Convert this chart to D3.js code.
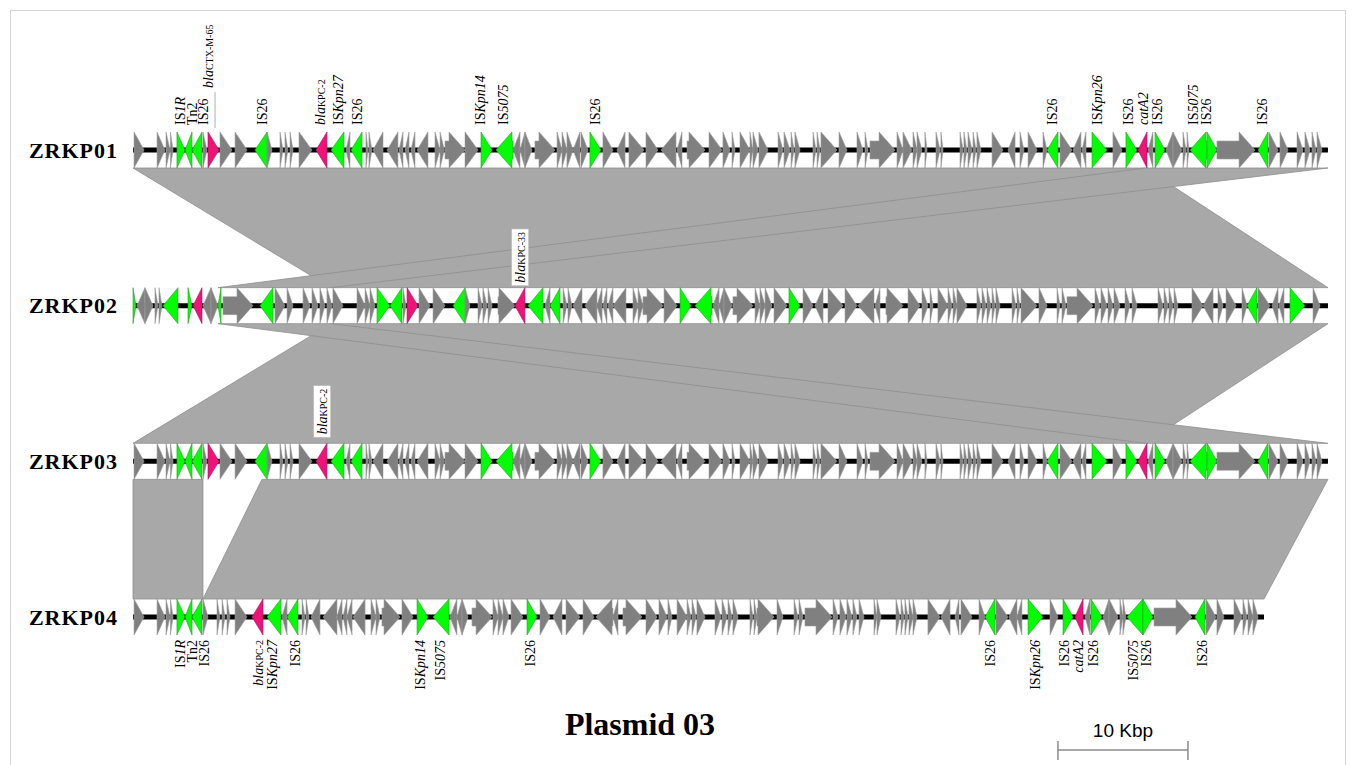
<!DOCTYPE html>
<html>
<head>
<meta charset="utf-8">
<script src="https://cdn.jsdelivr.net/npm/d3@7"></script>
<style>
  body { margin: 0; background: #fff; }
  svg { display: block; }
</style>
</head>
<body>
<div id="chart"></div>
<script>
// genes: [start kb, end kb, strand, type]  type: g = other, i = IS/transposon, r = resistance
const zrkp01Genes = [
  [0.08,0.85,1,'g'],[1.85,2.46,1,'g'],[2.54,2.85,1,'g'],[2.88,3.08,1,'g'],[3.38,4.0,1,'i'],[4.0,4.54,-1,'i'],
  [4.54,5.31,-1,'i'],[5.38,5.69,1,'g'],[5.77,6.62,1,'r'],[6.69,7.62,1,'g'],[7.85,8.77,1,'g'],[9.38,10.31,-1,'i'],
  [10.31,10.69,1,'g'],[11.31,11.54,1,'g'],[11.69,11.92,1,'g'],[12.08,12.31,1,'g'],[12.77,13.77,1,'g'],[14.08,14.92,-1,'r'],
  [15.23,16.23,-1,'i'],[16.38,16.69,-1,'g'],[16.77,17.62,-1,'i'],[17.92,18.08,1,'g'],[18.15,18.38,1,'g'],[18.46,19.23,-1,'g'],
  [19.54,20.38,-1,'g'],[20.46,20.77,-1,'g'],[20.92,21.23,-1,'g'],[21.38,21.69,-1,'g'],[21.85,22.69,-1,'g'],[23.23,23.62,1,'g'],
  [23.62,23.95,1,'g'],[24.0,25.54,1,'g'],[25.54,26.54,1,'g'],[26.77,27.62,1,'i'],[27.92,29.23,-1,'i'],[29.23,29.77,-1,'g'],
  [29.77,30.15,-1,'g'],[30.15,30.69,1,'g'],[30.92,32.46,1,'g'],[32.62,33.0,1,'g'],[33.0,33.38,1,'g'],[33.38,33.85,1,'g'],
  [33.85,34.38,-1,'g'],[34.46,35.0,1,'g'],[35.15,36.0,1,'i'],[36.15,36.92,1,'g'],[37.23,37.85,-1,'g'],[38.15,39.31,1,'g'],
  [39.46,40.38,1,'g'],[40.62,41.77,-1,'g'],[41.85,42.23,-1,'g'],[42.62,44.0,1,'g'],[44.31,45.31,1,'g'],[45.38,45.92,1,'g'],
  [46.08,46.31,1,'g'],[46.69,47.46,1,'g'],[47.46,47.69,1,'g'],[47.69,48.08,1,'g'],[48.15,48.85,1,'g'],[49.62,50.0,1,'g'],
  [50.08,50.54,1,'g'],[50.62,50.85,1,'g'],[50.92,51.31,1,'g'],[52.31,52.54,1,'g'],[52.62,52.85,1,'g'],[52.92,54.15,1,'g'],
  [54.31,54.92,1,'g'],[55.69,56.15,1,'g'],[56.31,56.54,1,'g'],[56.69,58.62,1,'g'],[58.77,59.23,1,'g'],[59.23,59.92,1,'g'],
  [60.0,60.31,1,'g'],[60.31,60.69,1,'g'],[60.92,61.08,1,'g'],[61.77,62.08,1,'g'],[62.15,62.31,1,'g'],[63.62,63.85,1,'g'],
  [63.92,64.15,1,'g'],[64.23,64.54,1,'g'],[64.62,64.85,1,'g'],[64.92,65.23,1,'g'],[66.08,66.92,1,'g'],[67.31,67.85,-1,'g'],
  [68.23,68.54,1,'g'],[68.85,69.54,1,'g'],[70.0,70.31,1,'g'],[70.31,71.15,-1,'i'],[71.31,72.23,1,'g'],[72.31,72.92,-1,'g'],
  [73.0,73.31,-1,'g'],[73.77,74.92,1,'i'],[75.38,76.08,1,'g'],[76.38,77.23,1,'i'],[77.31,78.0,-1,'r'],[78.08,78.46,-1,'g'],
  [78.62,79.38,1,'i'],[79.46,80.0,-1,'g'],[80.0,80.69,1,'g'],[80.77,81.0,1,'g'],[81.08,81.23,1,'g'],[81.31,82.62,-1,'i'],
  [82.62,83.38,1,'i'],[83.38,86.31,1,'g'],[86.54,87.31,-1,'i'],[87.38,88.08,1,'g'],[88.23,88.85,1,'g'],[89.54,90.0,1,'g'],
  [90.15,90.54,1,'g'],[90.69,91.0,1,'g'],[91.08,91.46,1,'g']
];

const zrkp02Genes = [
  [0.0,0.23,1,'i'],[0.31,0.92,-1,'g'],[0.92,1.54,1,'g'],[1.69,1.92,1,'g'],[2.0,2.23,1,'g'],[2.31,3.46,-1,'i'],
  [4.23,4.54,1,'i'],[4.62,5.31,-1,'r'],[5.38,6.0,-1,'g'],[6.0,6.54,1,'g'],[6.54,6.77,-1,'i'],[6.92,9.23,1,'g'],
  [9.77,10.77,-1,'i'],[10.92,11.69,1,'g'],[11.85,12.31,1,'g'],[13.08,13.62,1,'g'],[13.77,14.23,1,'g'],[14.38,14.77,1,'g'],
  [14.92,15.31,1,'g'],[15.38,16.15,1,'g'],[17.23,17.85,1,'g'],[17.85,18.23,1,'g'],[18.23,18.62,1,'g'],[18.77,19.77,1,'i'],
  [19.77,20.69,-1,'i'],[20.77,21.0,1,'g'],[21.08,21.92,1,'r'],[22.0,22.85,1,'g'],[23.08,24.0,1,'g'],[24.62,25.54,-1,'i'],
  [25.54,25.92,1,'g'],[26.54,26.85,1,'g'],[26.92,27.23,1,'g'],[27.31,27.62,1,'g'],[28.08,29.38,1,'g'],[29.38,30.15,-1,'r'],
  [30.38,31.54,-1,'i'],[31.69,32.08,-1,'g'],[32.08,32.85,-1,'i'],[33.08,33.38,1,'g'],[33.46,33.77,1,'g'],[33.85,34.54,-1,'g'],
  [34.77,35.69,-1,'g'],[35.69,36.08,-1,'g'],[36.15,36.46,-1,'g'],[36.54,36.92,-1,'g'],[36.92,37.92,-1,'g'],[38.46,38.85,1,'g'],
  [38.85,39.23,1,'g'],[39.23,40.77,1,'g'],[40.85,41.85,1,'g'],[42.08,42.92,1,'i'],[43.23,44.54,-1,'i'],[44.62,45.08,-1,'g'],
  [45.08,45.46,-1,'g'],[45.46,46.08,1,'g'],[46.15,47.69,1,'g'],[47.85,48.23,1,'g'],[48.23,48.62,1,'g'],[48.62,49.15,1,'g'],
  [49.31,50.31,1,'g'],[50.46,51.31,1,'i'],[51.54,52.31,1,'g'],[52.46,53.08,-1,'g'],[53.46,54.62,1,'g'],[54.77,55.69,1,'g'],
  [55.77,57.0,-1,'g'],[57.08,57.46,-1,'g'],[57.92,59.23,1,'g'],[59.62,60.54,1,'g'],[60.69,61.15,1,'g'],[61.31,61.54,1,'g'],
  [61.92,62.69,1,'g'],[62.69,63.0,1,'g'],[63.08,63.38,1,'g'],[63.38,64.15,1,'g'],[64.92,65.23,1,'g'],[65.31,65.62,1,'g'],
  [65.69,66.0,1,'g'],[66.08,66.31,1,'g'],[66.38,66.69,1,'g'],[67.62,67.92,1,'g'],[68.0,68.23,1,'g'],[68.31,69.54,1,'g'],
  [69.69,70.31,1,'g'],[71.08,71.31,1,'g'],[71.46,71.77,1,'g'],[71.85,73.85,1,'g'],[74.0,74.38,1,'g'],[74.46,74.92,1,'g'],
  [75.0,75.38,1,'g'],[75.46,75.92,1,'g'],[76.31,76.69,1,'g'],[76.85,77.23,1,'g'],[78.85,79.23,1,'g'],[79.31,79.62,1,'g'],
  [79.69,80.0,1,'g'],[80.08,80.38,1,'g'],[81.46,82.31,1,'g'],[82.31,83.08,-1,'g'],[83.46,83.85,1,'g'],[84.08,84.85,1,'g'],
  [85.31,85.69,1,'g'],[85.69,86.46,-1,'i'],[86.54,87.46,1,'g'],[87.62,88.08,-1,'g'],[88.15,88.54,-1,'g'],[89.0,90.15,1,'i'],
  [90.77,91.31,1,'g']
];

// ZRKP03 carries the same gene order as ZRKP01
const zrkp03Genes = zrkp01Genes;

const zrkp04Genes = [
  [0.08,0.85,1,'g'],[1.85,2.46,1,'g'],[2.54,2.85,1,'g'],[2.88,3.08,1,'g'],[3.38,4.0,1,'i'],[4.0,4.54,-1,'i'],
  [4.54,5.31,-1,'i'],[5.38,5.77,1,'g'],[6.46,6.69,1,'g'],[6.85,7.08,1,'g'],[7.23,7.46,1,'g'],[7.85,8.77,1,'g'],
  [9.15,10.0,-1,'r'],[10.31,11.38,-1,'i'],[11.46,11.85,-1,'g'],[11.85,12.69,-1,'i'],[13.0,13.23,1,'g'],[13.31,13.54,1,'g'],
  [13.69,14.38,-1,'g'],[14.62,15.69,-1,'g'],[15.69,16.08,-1,'g'],[16.15,16.46,-1,'g'],[16.46,16.85,-1,'g'],[16.92,17.85,-1,'g'],
  [18.31,18.69,1,'g'],[18.69,19.0,1,'g'],[19.15,20.54,1,'g'],[20.69,21.54,1,'g'],[21.85,22.69,1,'i'],[23.08,24.31,-1,'i'],
  [24.38,24.92,-1,'g'],[24.92,25.31,-1,'g'],[25.31,25.77,1,'g'],[26.08,27.62,1,'g'],[27.69,28.08,1,'g'],[28.08,28.46,1,'g'],
  [28.46,28.92,1,'g'],[29.08,30.0,1,'g'],[30.31,31.08,1,'i'],[31.31,32.08,1,'g'],[32.31,33.0,-1,'g'],[33.31,34.38,1,'g'],
  [34.62,35.46,1,'g'],[35.62,36.92,-1,'g'],[36.92,37.31,-1,'g'],[37.69,39.15,1,'g'],[39.46,40.31,1,'g'],[40.46,41.08,1,'g'],
  [41.15,41.46,1,'g'],[41.85,42.62,1,'g'],[42.62,42.92,1,'g'],[43.0,43.31,1,'g'],[43.38,44.0,1,'g'],[44.77,45.23,1,'g'],
  [45.31,45.69,1,'g'],[45.77,46.08,1,'g'],[46.15,46.54,1,'g'],[47.46,47.69,1,'g'],[47.77,48.0,1,'g'],[48.0,49.31,1,'g'],
  [49.54,50.0,1,'g'],[50.85,51.15,1,'g'],[51.23,51.54,1,'g'],[51.69,53.77,1,'g'],[53.85,54.23,1,'g'],[54.38,54.85,1,'g'],
  [54.92,55.31,1,'g'],[55.38,55.69,1,'g'],[55.85,56.23,1,'g'],[57.0,57.23,1,'g'],[57.23,57.54,1,'g'],[58.69,59.0,1,'g'],
  [59.08,59.31,1,'g'],[59.38,59.62,1,'g'],[59.69,60.0,1,'g'],[60.0,60.31,1,'g'],[61.15,62.08,1,'g'],[62.15,62.85,-1,'g'],
  [63.23,63.54,-1,'g'],[63.69,64.54,1,'g'],[65.08,65.54,1,'g'],[65.54,66.31,-1,'i'],[66.38,67.31,1,'g'],[67.38,68.0,-1,'g'],
  [68.0,68.38,-1,'g'],[68.85,70.0,1,'i'],[70.54,71.15,1,'g'],[71.54,72.31,1,'i'],[72.46,73.08,-1,'r'],[73.23,73.62,-1,'g'],
  [73.69,74.54,1,'i'],[74.62,75.08,-1,'g'],[75.08,75.77,1,'g'],[75.92,76.15,1,'g'],[76.15,76.38,1,'g'],[76.46,77.69,-1,'i'],
  [77.69,78.46,1,'i'],[78.54,81.46,1,'g'],[81.69,82.46,-1,'i'],[82.54,83.31,1,'g'],[83.38,83.92,1,'g'],[84.69,85.31,1,'g'],
  [85.38,85.69,1,'g'],[85.77,86.15,1,'g'],[86.15,86.54,1,'g']
];

const trackNames = ['ZRKP01', 'ZRKP02', 'ZRKP03', 'ZRKP04'];
const trackLengths = [91.92, 91.92, 91.92, 87.0]; // kbp
const trackGenes = [zrkp01Genes, zrkp02Genes, zrkp03Genes, zrkp04Genes];

// blast hits between neighbouring tracks: [upper start, upper end, lower start, lower end] (kbp)
const hits12 = [[0, 77.85, 15.23, 91.92], [77.85, 91.92, 6.54, 15.23]];
const hits23 = [[15.23, 91.92, 0, 77.85], [6.54, 15.23, 77.85, 91.92]];
const hits34 = [[0, 5.38, 0, 5.38], [9.92, 91.92, 5.38, 87.0]];
const hitSets = [hits12, hits23, hits34];

// labels: [position kbp, name]
const labels01 = [
  [3.62,'IS1R'],[4.54,'Tn2'],[5.38,'IS26'],[6.08,'blaCTX-M-65'],[9.92,'IS26'],[14.38,'blaKPC-2'],
  [15.77,'ISKpn27'],[17.23,'IS26'],[26.69,'ISKpn14'],[28.46,'IS5075'],[35.54,'IS26'],[70.69,'IS26'],
  [74.15,'ISKpn26'],[76.54,'IS26'],[77.69,'catA2'],[78.77,'IS26'],[81.54,'IS5075'],[82.54,'IS26'],[86.85,'IS26']
];
const labels02 = [[29.77,'blaKPC-33']];
const labels03 = [[14.54,'blaKPC-2']];
const labels04 = [
  [3.62,'IS1R'],[4.54,'Tn2'],[5.46,'IS26'],[9.62,'blaKPC-2'],[10.69,'ISKpn27'],[12.46,'IS26'],
  [22.08,'ISKpn14'],[23.62,'IS5075'],[30.54,'IS26'],[65.92,'IS26'],[69.38,'ISKpn26'],[71.62,'IS26'],
  [72.69,'catA2'],[73.85,'IS26'],[76.92,'IS5075'],[77.92,'IS26'],[82.23,'IS26']
];

const labelParts = {
  'IS1R': [['IS', 'n'], ['1R', 'i']],
  'Tn2': [['Tn2', 'n']],
  'IS26': [['IS26', 'n']],
  'IS5075': [['IS', 'n'], ['5075', 'i']],
  'ISKpn14': [['IS', 'n'], ['Kpn14', 'i']],
  'ISKpn26': [['IS', 'n'], ['Kpn26', 'i']],
  'ISKpn27': [['IS', 'n'], ['Kpn27', 'i']],
  'catA2': [['catA2', 'i']],
  'blaCTX-M-65': [['bla', 'i'], ['CTX-M-65', 's']],
  'blaKPC-2': [['bla', 'i'], ['KPC-2', 's']],
  'blaKPC-33': [['bla', 'i'], ['KPC-33', 's']]
};

const colors = { g: '#808080', i: '#00ff00', r: '#ee1379' };
const strokes = { g: '#a0a0a0', i: '#2f9a2f', r: '#b0105c' };

const svgWidth = 1356, svgHeight = 765;
const serif = '"Liberation Serif", "DejaVu Serif", serif';

const svg = d3
  .select('#chart')
  .append('svg')
  .attr('width', svgWidth)
  .attr('height', svgHeight);

// frame
svg.append('rect')
  .attr('x', 10.5).attr('y', 10.5)
  .attr('width', 1335).attr('height', 780)
  .attr('fill', 'none')
  .attr('stroke', '#d4d4d4');

const x = d3.scaleLinear().domain([0, 92]).range([133, 1329]);
const yTrack = d3.scaleLinear().domain([0, 3]).range([150, 617]);
const H = 18, h = 9, headPx = 16;

// homology polygons
hitSets.forEach((hits, i) => {
  const yA = yTrack(i) + H, yB = yTrack(i + 1) - H;
  svg.append('g')
    .selectAll('path')
    .data(hits)
    .enter()
    .append('path')
    .attr('d', (d) => `M${x(d[0])},${yA}L${x(d[1])},${yA}L${x(d[3])},${yB}L${x(d[2])},${yB}Z`)
    .attr('fill', '#a8a8a8')
    .attr('stroke', '#8e8e8e')
    .attr('stroke-width', 0.8);
});

function arrowPath(d, yc) {
  const x0 = x(d[0]), x1 = x(d[1]);
  const len = x1 - x0;
  let pts;
  if (d[2] > 0) {
    if (len <= headPx) pts = [[x0, yc - H], [x1, yc], [x0, yc + H]];
    else pts = [[x0, yc - h], [x1 - headPx, yc - h], [x1 - headPx, yc - H], [x1, yc],
                [x1 - headPx, yc + H], [x1 - headPx, yc + h], [x0, yc + h]];
  } else {
    if (len <= headPx) pts = [[x1, yc - H], [x0, yc], [x1, yc + H]];
    else pts = [[x1, yc - h], [x0 + headPx, yc - h], [x0 + headPx, yc - H], [x0, yc],
                [x0 + headPx, yc + H], [x0 + headPx, yc + h], [x1, yc + h]];
  }
  return 'M' + pts.map((p) => p.join(',')).join('L') + 'Z';
}

// tracks
trackNames.forEach((name, i) => {
  const yc = yTrack(i);
  const g = svg.append('g');
  g.append('line')
    .attr('x1', x(0)).attr('x2', x(trackLengths[i]))
    .attr('y1', yc).attr('y2', yc)
    .attr('stroke', '#000')
    .attr('stroke-width', 5);
  g.selectAll('.gene')
    .data(trackGenes[i])
    .enter()
    .append('path')
    .attr('class', 'gene')
    .attr('d', (d) => arrowPath(d, yc))
    .attr('fill', (d) => colors[d[3]])
    .attr('stroke', (d) => strokes[d[3]])
    .attr('stroke-width', 0.6);
  svg.append('text')
    .attr('x', 118).attr('y', yc)
    .attr('dy', '0.35em')
    .attr('text-anchor', 'end')
    .style('font-family', serif)
    .style('font-weight', 'bold')
    .style('font-size', '22px')
    .style('letter-spacing', '1px')
    .text(name);
});

function addLabel(pos, name, y, anchor, boxed) {
  const g = svg.append('g')
    .attr('transform', `translate(${x(pos)},${y}) rotate(-90)`);
  const t = g.append('text')
    .attr('dy', '0.33em')
    .attr('text-anchor', anchor)
    .style('font-family', serif)
    .style('font-size', '14px');
  labelParts[name].forEach(([txt, st]) => {
    t.append('tspan')
      .style('font-style', st === 'i' ? 'italic' : 'normal')
      .style('font-size', st === 's' ? '10px' : '14px')
      .text(txt);
  });
  if (boxed) {
    const bb = t.node().getBBox();
    g.insert('rect', 'text')
      .attr('x', bb.x - 3).attr('y', bb.y - 1)
      .attr('width', bb.width + 6).attr('height', bb.height + 2)
      .attr('fill', '#fff')
      .attr('stroke', '#bbb')
      .attr('stroke-width', 0.6);
  }
  return g;
}

labels01.forEach(([pos, name]) => {
  if (name === 'blaCTX-M-65') {
    addLabel(pos - 0.3, name, yTrack(0) - H - 44, 'start', false);
    svg.append('line')
      .attr('x1', x(pos) + 3).attr('x2', x(pos) + 3)
      .attr('y1', yTrack(0) - H - 40).attr('y2', yTrack(0) - H - 4)
      .attr('stroke', '#999').attr('stroke-width', 0.8);
  } else {
    addLabel(pos, name, yTrack(0) - H - 7, 'start', false);
  }
});
labels02.forEach(([pos, name]) => addLabel(pos, name, yTrack(1) - H - 5, 'start', true));
labels03.forEach(([pos, name]) => addLabel(pos, name, yTrack(2) - H - 9, 'start', true));
labels04.forEach(([pos, name]) => addLabel(pos, name, yTrack(3) + H + 5, 'end', false));

// title
svg.append('text')
  .attr('x', 640).attr('y', 735)
  .attr('text-anchor', 'middle')
  .style('font-family', serif)
  .style('font-weight', 'bold')
  .style('font-size', '32px')
  .text('Plasmid 03');

// scale bar
const barStart = 71.15, barLen = 10;
const sb = svg.append('g').attr('stroke', '#8a8a8a').attr('stroke-width', 1.5);
sb.append('line').attr('x1', x(barStart)).attr('x2', x(barStart + barLen)).attr('y1', 750).attr('y2', 750);
sb.append('line').attr('x1', x(barStart)).attr('x2', x(barStart)).attr('y1', 741).attr('y2', 760);
sb.append('line').attr('x1', x(barStart + barLen)).attr('x2', x(barStart + barLen)).attr('y1', 741).attr('y2', 760);
svg.append('text')
  .attr('x', x(barStart + barLen / 2)).attr('y', 737)
  .attr('text-anchor', 'middle')
  .style('font-family', '"Liberation Sans", Arial, sans-serif')
  .style('font-size', '19px')
  .text('10 Kbp');
</script>
</body>
</html>
